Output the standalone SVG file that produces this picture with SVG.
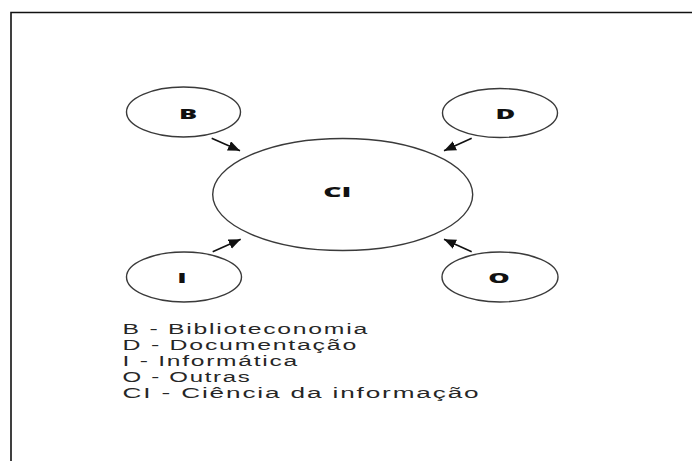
<svg xmlns="http://www.w3.org/2000/svg" width="692" height="461" viewBox="0 0 692 461">
  <defs>
    <marker id="ah" markerUnits="userSpaceOnUse" markerWidth="14" markerHeight="12" refX="12" refY="5" orient="auto">
      <path d="M0,0 L12,5 L0,10 Z" fill="#111"/>
    </marker>
    <style>
      .node ellipse { fill: #fff; stroke: #3a3a3a; stroke-width: 1.4; }
      .node text { font-family: "Open Sans", "DejaVu Sans", sans-serif; font-weight: 800; font-size: 13.5px; fill: #111; text-anchor: middle; }
      .conn line { stroke: #111; stroke-width: 1.6; marker-end: url(#ah); }
      .legend text { font-family: "Liberation Sans", Arial, sans-serif; font-size: 14px; fill: #262626; letter-spacing: 1px; }
    </style>
  </defs>
  <rect width="692" height="461" fill="#fff"/>
  <path d="M11,461 V12.5 H692" fill="none" stroke="#111" stroke-width="1.6"/>

  <g id="node-CI" class="node">
    <ellipse cx="342.7" cy="194.5" rx="130" ry="56"/>
    <text transform="translate(337.3,196.7) scale(2.1,1)">CI</text>
  </g>
  <g id="node-B" class="node">
    <ellipse cx="183.5" cy="112" rx="57" ry="25"/>
    <text transform="translate(188,119.3) scale(2,1)">B</text>
  </g>
  <g id="node-D" class="node">
    <ellipse cx="500" cy="113" rx="57.5" ry="24.5"/>
    <text transform="translate(505.5,119.3) scale(2,1)">D</text>
  </g>
  <g id="node-I" class="node">
    <ellipse cx="184" cy="277" rx="57.5" ry="25"/>
    <text transform="translate(182,283.3) scale(2,1)">I</text>
  </g>
  <g id="node-O" class="node">
    <ellipse cx="500" cy="277" rx="58" ry="25"/>
    <text transform="translate(499,283.3) scale(2,1)">O</text>
  </g>

  <g id="connectors" class="conn">
    <line x1="211.7" y1="138.3" x2="240" y2="150.7"/>
    <line x1="471.7" y1="138.3" x2="444" y2="150.7"/>
    <line x1="212.7" y1="251.7" x2="240.7" y2="239.3"/>
    <line x1="471.7" y1="251.7" x2="444" y2="239.3"/>
  </g>

  <g id="legend" class="legend">
    <text x="122.5" y="334" textLength="246.5" lengthAdjust="spacingAndGlyphs">B - Biblioteconomia</text>
    <text x="122.5" y="350" textLength="235.5" lengthAdjust="spacingAndGlyphs">D - Documentação</text>
    <text x="122.5" y="366" textLength="176.5" lengthAdjust="spacingAndGlyphs">I - Informática</text>
    <text x="122.5" y="382" textLength="129" lengthAdjust="spacingAndGlyphs">O - Outras</text>
    <text x="122.5" y="398" textLength="358" lengthAdjust="spacingAndGlyphs">CI - Ciência da informação</text>
  </g>
</svg>
